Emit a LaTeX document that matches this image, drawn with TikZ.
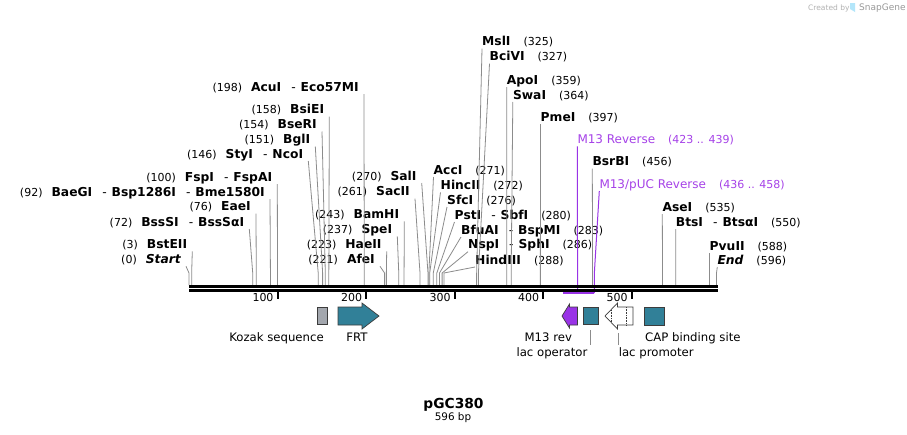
\documentclass[tikz,border=0pt]{standalone}
\usepackage{fontspec}
\setmainfont{DejaVu Sans}
\usetikzlibrary{calc}

\definecolor{linegray}{RGB}{140,140,140}
\definecolor{featteal}{RGB}{49,128,152}
\definecolor{kozakgray}{RGB}{163,167,174}
\definecolor{primerline}{RGB}{153,51,230}
\definecolor{primertext}{RGB}{166,66,232}
\definecolor{featedge}{RGB}{60,60,60}

\newcommand{\enz}[1]{{\fontsize{12.3}{14}\selectfont\bfseries #1}}
\newcommand{\loc}[1]{{\fontsize{11}{13}\selectfont #1}}
\newcommand{\dsh}{\hspace{10pt}{\mdseries -}\hspace{5pt}}
\newcommand{\siteline}[2]{\draw[leader] (#1) -- ($(k0)!#2/596!(k1)$) -- ($(b0)!#2/596!(b1)$);}

\begin{document}
\begin{tikzpicture}[x=1pt, y=-1pt,
  lft/.style={anchor=base east, inner xsep=5pt, inner ysep=0pt},
  rgt/.style={anchor=base west, inner sep=0pt},
  leader/.style={draw=linegray, line width=0.8pt},
  primer/.style={draw=primerline, line width=1pt},
  plbl/.style={anchor=base west, inner sep=0pt, text=primertext, font=\fontsize{12}{14}\selectfont},
  tick/.style={line width=2pt},
  ticklbl/.style={anchor=base east, inner sep=0pt, xshift=-3pt, yshift=-2pt, font=\fontsize{11}{13}\selectfont},
  feat/.style={draw=featedge, line width=0.7pt},
  flbl/.style={anchor=base, inner sep=0pt, font=\fontsize{11.7}{14}\selectfont}]

  \fill[white] (0,0) rectangle (907,434);
  \useasboundingbox (0,0) rectangle (907,434);

  % Watermark
  \node[anchor=base west, inner sep=0pt, text=black!30, font=\fontsize{7.5}{9}\selectfont] (credit) at (808,10) {Created by};
  \fill[cyan!30] (850,3) -- (855,3) -- (855,12) -- (850,9) -- cycle;
  \node[anchor=base west, inner sep=0pt, text=black!40, font=\fontsize{9}{11}\selectfont] (snapgene) at (859,10.5) {SnapGene};

  % Sequence line
  \coordinate (b0) at (189,285);
  \coordinate (b1) at (716.5,285);
  \coordinate (k0) at (189,273);
  \coordinate (k1) at (716.5,273);
  \coordinate (p0) at (189,293);
  \coordinate (p1) at (716.5,293);
  \coordinate (c0) at (189,290);
  \coordinate (c1) at (716.5,290);

  % Sites left of their lines
  \node[lft] (acu) at (364,91) {\loc{(198)}\hspace{9pt}\enz{AcuI\dsh Eco57MI}};
  \node[lft] (bsie) at (329.3,113.5) {\loc{(158)}\hspace{9pt}\enz{BsiEI}};
  \node[lft] (bser) at (322,128.5) {\loc{(154)}\hspace{9pt}\enz{BseRI}};
  \node[lft] (bgl) at (315.3,143.5) {\loc{(151)}\hspace{9pt}\enz{BglI}};
  \node[lft] (sty) at (308.3,158) {\loc{(146)}\hspace{9pt}\enz{StyI\dsh NcoI}};
  \node[lft] (fsp) at (277.3,181) {\loc{(100)}\hspace{9pt}\enz{FspI\dsh FspAI}};
  \node[lft] (baeg) at (270,196) {\loc{(92)}\hspace{9pt}\enz{BaeGI\dsh Bsp1286I\dsh Bme1580I}};
  \node[lft] (eae) at (256,210.7) {\loc{(76)}\hspace{9pt}\enz{EaeI}};
  \node[lft] (bsss) at (249.3,226) {\loc{(72)}\hspace{9pt}\enz{BssSI\dsh BssSαI}};
  \node[lft] (bste) at (192.3,248.3) {\loc{(3)}\hspace{9pt}\enz{BstEII}};
  \node[lft] (start) at (186,263.3) {\loc{(0)}\hspace{9pt}\enz{\itshape Start}};
  \node[lft] (sal) at (421.7,180) {\loc{(270)}\hspace{9pt}\enz{SalI}};
  \node[lft] (sac) at (415,195.7) {\loc{(261)}\hspace{9pt}\enz{SacII}};
  \node[lft] (bamh) at (404.3,218.3) {\loc{(243)}\hspace{9pt}\enz{BamHI}};
  \node[lft] (spe) at (397.3,233.3) {\loc{(237)}\hspace{9pt}\enz{SpeI}};
  \node[lft] (hae) at (386.7,248.3) {\loc{(223)}\hspace{9pt}\enz{HaeII}};
  \node[lft] (afe) at (380,263.3) {\loc{(221)}\hspace{9pt}\enz{AfeI}};

  % Sites right of their lines
  \node[rgt] (acc) at (433.5,174) {\enz{AccI}\hspace{13pt}\loc{(271)}};
  \node[rgt] (hinc) at (440.5,189.3) {\enz{HincII}\hspace{13pt}\loc{(272)}};
  \node[rgt] (sfc) at (447,204) {\enz{SfcI}\hspace{13pt}\loc{(276)}};
  \node[rgt] (pst) at (454.5,219) {\enz{PstI\dsh SbfI}\hspace{13pt}\loc{(280)}};
  \node[rgt] (bfua) at (461,234) {\enz{BfuAI\dsh BspMI}\hspace{13pt}\loc{(283)}};
  \node[rgt] (nsp) at (468,248.7) {\enz{NspI\dsh SphI}\hspace{13pt}\loc{(286)}};
  \node[rgt] (hind) at (475,264) {\enz{HindIII}\hspace{13pt}\loc{(288)}};
  \node[rgt] (msl) at (482,45.7) {\enz{MslI}\hspace{13pt}\loc{(325)}};
  \node[rgt] (bciv) at (489.5,60.7) {\enz{BciVI}\hspace{13pt}\loc{(327)}};
  \node[rgt] (apo) at (506.7,84) {\enz{ApoI}\hspace{13pt}\loc{(359)}};
  \node[rgt] (swa) at (512.8,99) {\enz{SwaI}\hspace{13pt}\loc{(364)}};
  \node[rgt] (pme) at (540.5,121) {\enz{PmeI}\hspace{13pt}\loc{(397)}};
  \node[rgt] (bsrb) at (592.3,165.7) {\enz{BsrBI}\hspace{13pt}\loc{(456)}};
  \node[rgt] (ase) at (662.3,211) {\enz{AseI}\hspace{13pt}\loc{(535)}};
  \node[rgt] (bts) at (675.7,226) {\enz{BtsI\dsh BtsαI}\hspace{13pt}\loc{(550)}};
  \node[rgt] (pvu) at (709.5,250) {\enz{PvuII}\hspace{13pt}\loc{(588)}};
  \node[rgt] (end) at (717.3,264) {\enz{\itshape End}\hspace{13pt}\loc{(596)}};

  % Primers
  \node[plbl] (m13r) at (577.3,143.3) {M13 Reverse\hspace{13pt}\loc{(423 .. 439)}};
  \node[plbl] (m13p) at (599.3,188) {M13/pUC Reverse\hspace{13pt}\loc{(436 .. 458)}};
  \draw[primer] ([yshift=-3pt]m13r.base west) -- ($(k0)!439/596!(k1)$) -- ($(p0)!439/596!(p1)$);
  \draw[primer] ([yshift=-3pt]m13p.base west) -- ($(k0)!458/596!(k1)$) -- ($(p0)!458/596!(p1)$);
  \draw[primer, line width=2pt] ($(p0)!423/596!(p1)$) -- ($(p0)!458/596!(p1)$);

  % Leader lines
  \siteline{[yshift=-3pt]acu.base east}{198}
  \siteline{[yshift=-3pt]bsie.base east}{158}
  \siteline{[yshift=-3pt]bser.base east}{154}
  \siteline{[yshift=-3pt]bgl.base east}{151}
  \siteline{[yshift=-3pt]sty.base east}{146}
  \siteline{[yshift=-3pt]fsp.base east}{100}
  \siteline{[yshift=-3pt]baeg.base east}{92}
  \siteline{[yshift=-3pt]eae.base east}{76}
  \siteline{[yshift=-3pt]bsss.base east}{72}
  \siteline{[yshift=-3pt]bste.base east}{3}
  \siteline{[yshift=-3pt]start.base east}{0}
  \siteline{[yshift=-3pt]sal.base east}{270}
  \siteline{[yshift=-3pt]sac.base east}{261}
  \siteline{[yshift=-3pt]bamh.base east}{243}
  \siteline{[yshift=-3pt]spe.base east}{237}
  \siteline{[yshift=-3pt]hae.base east}{223}
  \siteline{[yshift=-3pt]afe.base east}{221}
  \siteline{[yshift=-3pt]acc.base west}{271}
  \siteline{[yshift=-3pt]hinc.base west}{272}
  \siteline{[yshift=-3pt]sfc.base west}{276}
  \siteline{[yshift=-3pt]pst.base west}{280}
  \siteline{[yshift=-3pt]bfua.base west}{283}
  \siteline{[yshift=-3pt]nsp.base west}{286}
  \siteline{[yshift=-3pt]hind.base west}{288}
  \siteline{[yshift=-3pt]msl.base west}{325}
  \siteline{[yshift=-3pt]bciv.base west}{327}
  \siteline{[yshift=-3pt]apo.base west}{359}
  \siteline{[yshift=-3pt]swa.base west}{364}
  \siteline{[yshift=-3pt]pme.base west}{397}
  \siteline{[yshift=-3pt]bsrb.base west}{456}
  \siteline{[yshift=-3pt]ase.base west}{535}
  \siteline{[yshift=-3pt]bts.base west}{550}
  \siteline{[yshift=-3pt]pvu.base west}{588}
  \siteline{[yshift=-3pt]end.base west}{596}

  % Bar and ruler
  \draw[line width=3pt] (189,286) -- (717.5,286);
  \draw[line width=2.5pt] (189,290.5) -- (717.5,290.5);
  \draw[tick] ($(c0)!100/596!(c1)$) -- ++(0,9) node[ticklbl] (t100) {100};
  \draw[tick] ($(c0)!200/596!(c1)$) -- ++(0,9) node[ticklbl] (t200) {200};
  \draw[tick] ($(c0)!300/596!(c1)$) -- ++(0,9) node[ticklbl] (t300) {300};
  \draw[tick] ($(c0)!400/596!(c1)$) -- ++(0,9) node[ticklbl] (t400) {400};
  \draw[tick] ($(c0)!500/596!(c1)$) -- ++(0,9) node[ticklbl] (t500) {500};

  % Features
  \filldraw[feat, fill=kozakgray] (317,307) rectangle (327,324);
  \filldraw[feat, fill=featteal] (338,307) -- (362,307) -- (362,303) -- (379,316) -- (362,329) -- (362,325) -- (338,325) -- cycle;
  \filldraw[feat, fill=primerline] (577.5,307) -- (569.5,307) -- (569.5,304) -- (562,316) -- (569.5,328) -- (569.5,325) -- (577.5,325) -- cycle;
  \node[feat, fill=featteal, minimum width=15pt, minimum height=17.5pt, inner sep=0pt] (lacop) at (590.8,316) {};
  \filldraw[feat, fill=white] (633,307) -- (617.5,307) -- (617.5,303) -- (605,316) -- (617.5,329) -- (617.5,325) -- (633,325) -- cycle;
  \draw[featedge, densely dotted, line width=0.6pt] (611,310) -- (611,322) (626.4,307) -- (626.4,325);
  \coordinate (lacpro) at (618,329);
  \filldraw[feat, fill=featteal] (644,307) rectangle (664,325);

  % Feature labels
  \node[flbl] (kozaklbl) at (276.5,341.7) {Kozak sequence};
  \node[flbl] (frtlbl) at (357,341.7) {FRT};
  \node[flbl] (m13lbl) at (548.3,341.7) {M13 rev};
  \node[flbl] (oplbl) at (552,356.5) {lac operator};
  \node[flbl, anchor=base west] (prolbl) at (618.6,356.5) {lac promoter};
  \node[flbl, anchor=base west] (caplbl) at (645,341.7) {CAP binding site};
  \draw[leader] ([yshift=-5pt]lacop.south) -- ([yshift=-20pt]lacop.south);
  \draw[leader] ([yshift=-4pt]lacpro) -- ([yshift=-16pt]lacpro);

  % Title
  \node[anchor=base, inner sep=0pt, font=\bfseries\fontsize{13.8}{16}\selectfont] (title) at (453.5,408.3) {pGC380};
  \node[anchor=base, inner sep=0pt, font=\fontsize{10.4}{12}\selectfont] (size) at (453,420.7) {596 bp};
\end{tikzpicture}
\end{document}
